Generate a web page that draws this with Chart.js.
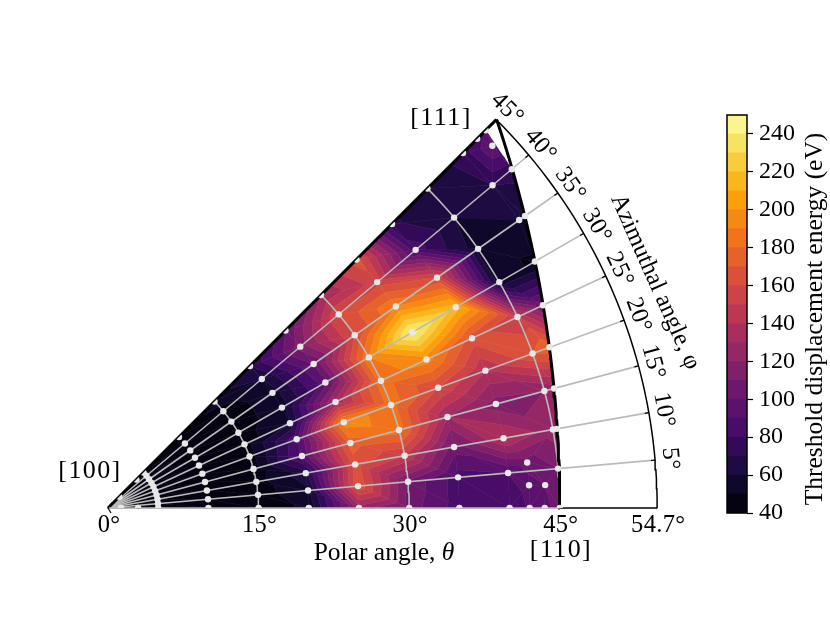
<!DOCTYPE html>
<html><head><meta charset="utf-8">
<script src="https://cdn.jsdelivr.net/npm/chart.js@4/dist/chart.umd.min.js"></script>
<style>html,body{margin:0;padding:0;background:#fff;width:830px;height:623px;overflow:hidden}
canvas{position:absolute;left:0;top:0}</style></head>
<body><canvas id="main" width="830" height="623"></canvas><canvas id="bar" width="830" height="623"></canvas>
<script>
// --- data: polar angle (deg) and threshold energy (eV) along each azimuth ---
const commonTheta = [5,10,15,20,25,30,35,40,45];
const theta0  = [1.3,3,5,10,15,20,25,30,35,40,42,43.5,45];
const energy0 = [45,45,45,45,45,52,125,105,85,80,92,96,105];
const theta5  = commonTheta;
const energy5 = [45,45,45,58,168,108,85,90,110];
const theta10 = [...commonTheta,45.4];
const energy10= [45,45,46,66,165,150,105,140,125,125];
const theta15 = [...commonTheta,46];
const energy15= [45,45,45,92,175,185,130,115,120,125];
const theta20 = [...commonTheta,46.8];
const energy20= [45,45,45,88,195,185,160,140,170,178];
const theta25 = [...commonTheta,47.8];
const energy25= [45,45,45,60,132,185,195,165,150,105];
const theta30 = [...commonTheta,49.1];
const energy30= [45,45,45,55,95,190,245,215,55,48];
const theta35 = [...commonTheta,50,50.7];
const energy35= [45,45,45,55,100,160,190,160,55,60,58];
const theta40 = [...commonTheta,50,52.5];
const energy40= [45,45,45,60,115,160,155,85,60,70,75];
const theta45 = [1.6,4,5,10,15,20,25,30,35,40,45,50,52,53.2];
const energy45= [45,45,45,45,55,70,100,130,165,72,60,75,85,90];
const extraTheta = [42,42,43.6,52.6];
const extraPhi   = [6.2,3.1,3,43.3];
const extraEnergy= [105,95,100,100];
const azimuths = [0,5,10,15,20,25,30,35,40,45];
const thetaRows = [theta0,theta5,theta10,theta15,theta20,theta25,theta30,theta35,theta40,theta45];
const energyRows = [energy0,energy5,energy10,energy15,energy20,energy25,energy30,energy35,energy40,energy45];
const polarTicks = [0,15,30,45,54.7];
const polarGrid = [15,30,45];
const azimuthTicks = [5,10,15,20,25,30,35,40,45];
const barTicksStep = 20;
const levels = [40,50,60,70,80,90,100,110,120,130,140,150,160,170,180,190,200,210,220,230,240,250];

const OUTER = 54.7, PXPER = 10.04, OX = 108, OY = 508;
const SERIF = '"Liberation Serif", serif';
const GRAY = '#bababa';
const rad = d => d*Math.PI/180;
const toXY = (t,p) => ({x:t*Math.cos(rad(p)), y:t*Math.sin(rad(p))});
const bound = p => Math.atan(1/Math.cos(rad(p)))*180/Math.PI;

// colormap
const anchors=[[0,0,4],[22,11,57],[66,10,104],[106,23,110],[147,38,103],[188,55,84],[221,81,58],[243,120,25],[252,165,10],[246,215,70],[252,255,164]];
function inferno(f){const a=Math.min(9.9999,Math.max(0,f*10)),i=Math.floor(a),u=a-i;
  const c=anchors[i].map((v,k)=>Math.round(v+(anchors[i+1][k]-v)*u));return `rgb(${c[0]},${c[1]},${c[2]})`;}
const bandColor = (lo,hi)=>inferno(((lo+hi)/2-levels[0])/(levels[levels.length-1]-levels[0]));

// nodes
const nodes=[{x:0,y:0,v:45}];
const dots=[];
azimuths.forEach((p,i)=>thetaRows[i].forEach((t,j)=>{const q=toXY(t,p);nodes.push({...q,v:energyRows[i][j]});dots.push(q);}));
extraTheta.forEach((t,i)=>{const q=toXY(t,extraPhi[i]);nodes.push({...q,v:extraEnergy[i]});dots.push(q);});

// Delaunay (Bowyer-Watson)
function delaunay(pts){
  const S=1e4,all=pts.concat([{x:-S,y:-S},{x:S,y:-S},{x:0,y:S}]);const n=pts.length;
  let tris=[[n,n+1,n+2]];
  const inC=(t,p)=>{const[a,b,c]=t.map(i=>all[i]);
    const ax=a.x-p.x,ay=a.y-p.y,bx=b.x-p.x,by=b.y-p.y,cx=c.x-p.x,cy=c.y-p.y;
    const d=(ax*ax+ay*ay)*(bx*cy-cx*by)-(bx*bx+by*by)*(ax*cy-cx*ay)+(cx*cx+cy*cy)*(ax*by-bx*ay);
    const o=(b.x-a.x)*(c.y-a.y)-(b.y-a.y)*(c.x-a.x);return o>0?d>1e-9:d<-1e-9;};
  pts.forEach((p,i)=>{const bad=[],good=[];tris.forEach(t=>(inC(t,p)?bad:good).push(t));
    const edges={};bad.forEach(t=>[[t[0],t[1]],[t[1],t[2]],[t[2],t[0]]].forEach(([a,b])=>{const k=a<b?a+'_'+b:b+'_'+a;edges[k]=edges[k]?null:[a,b];}));
    tris=good;Object.values(edges).forEach(e=>{if(e)tris.push([e[0],e[1],i]);});});
  return tris.filter(t=>t.every(i=>i<n));
}
const triangles=delaunay(nodes);

function clipBand(poly,level,keepAbove){
  const out=[];for(let i=0;i<poly.length;i++){const a=poly[i],b=poly[(i+1)%poly.length];
    const ai=keepAbove?a.v>=level:a.v<=level,bi=keepAbove?b.v>=level:b.v<=level;
    if(ai)out.push(a);
    if(ai!==bi){const u=(level-a.v)/(b.v-a.v);out.push({x:a.x+(b.x-a.x)*u,y:a.y+(b.y-a.y)*u,v:level});}}
  return out;}

const sectorPath=(ctx,c)=>{const X=c.scales.x,Y=c.scales.y,ox=X.getPixelForValue(0),oy=Y.getPixelForValue(0),r=X.getPixelForValue(OUTER)-ox;
  ctx.beginPath();ctx.moveTo(ox,oy);ctx.arc(ox,oy,r,0,-rad(45),true);ctx.closePath();};

const contourPlugin={id:'contour',beforeDatasetsDraw(c){
  const ctx=c.ctx,X=c.scales.x,Y=c.scales.y;ctx.save();ctx.lineJoin='round';
  for(let l=0;l<levels.length-1;l++){const col=bandColor(levels[l],levels[l+1]);ctx.fillStyle=col;ctx.strokeStyle=col;ctx.lineWidth=.6;
    triangles.forEach(t=>{let poly=t.map(i=>nodes[i]);poly=clipBand(poly,levels[l],true);if(poly.length<3)return;poly=clipBand(poly,levels[l+1],false);if(poly.length<3)return;
      ctx.beginPath();poly.forEach((p,i)=>{const px=X.getPixelForValue(p.x),py=Y.getPixelForValue(p.y);i?ctx.lineTo(px,py):ctx.moveTo(px,py);});ctx.closePath();ctx.fill();ctx.stroke();});}
  ctx.restore();},
  beforeDatasetDraw(c,a){if(c.data.datasets[a.index].clipSector){c.ctx.save();sectorPath(c.ctx,c);c.ctx.clip();}},
  afterDatasetDraw(c,a){if(c.data.datasets[a.index].clipSector){c.ctx.restore();}},
  afterDraw(c){const ctx=c.ctx,X=c.scales.x,Y=c.scales.y;ctx.save();ctx.fillStyle='#000';ctx.textAlign='center';ctx.textBaseline='middle';
    const T=(s,x,y,size,rot,sp)=>{ctx.save();ctx.translate(x,y);ctx.rotate(rot||0);ctx.letterSpacing=(sp||0)+'px';ctx.font=`${size}px ${SERIF}`;ctx.fillText(s,0,0);ctx.restore();};
    const lblY=Y.getPixelForValue(0)+18;
    polarTicks.forEach(t=>T(t+'°',X.getPixelForValue(t)+1,lblY,24.5,0,.3));
    azimuthTicks.forEach(p=>{const q=toXY(56.2,p);T(p+'°',X.getPixelForValue(q.x),Y.getPixelForValue(q.y),24.5,rad(90-p),.3);});
    T('[100]',90,471,26,0,1.4);T('[111]',441,118,26,0,1.4);T('[110]',561,550,26,0,1.4);
    ctx.font=`25.5px ${SERIF}`;const a='Polar angle, ',wa=ctx.measureText(a).width;ctx.font=`italic 25.5px ${SERIF}`;const wb=ctx.measureText('θ').width;
    const x0=384-(wa+wb)/2;ctx.textAlign='left';ctx.font=`25.5px ${SERIF}`;ctx.fillText(a,x0,553);ctx.font=`italic 25.5px ${SERIF}`;ctx.fillText('θ',x0+wa,553);ctx.textAlign='center';
    T('Azimuthal angle, φ',655,282,24.5,rad(66));
    ctx.restore();}
};

const line=(pts,color,width)=>({type:'line',data:pts,borderColor:color,borderWidth:width,pointRadius:0,fill:false,tension:0,clip:false,borderCapStyle:'butt'});
const sweep=(fn)=>{const o=[];for(let p=0;p<=45;p+=1)o.push(fn(p));return o;};
const ds=[];
azimuthTicks.slice(0,-1).forEach(p=>ds.push(line([toXY(0,p),toXY(OUTER,p)],GRAY,1.6)));
polarGrid.forEach(t=>ds.push(line(sweep(p=>toXY(t,p)),GRAY,1.6)));
ds.push(line([toXY(0,45),toXY(OUTER,45)],'#000',3));
ds.push(line(sweep(p=>toXY(bound(p),p)),'#000',3));
ds.push(line([toXY(0,0),toXY(45,0)],GRAY,1.6));
ds.push(line([toXY(45,0),toXY(OUTER,0)],'#000',1.5));
ds.push(line(sweep(p=>toXY(OUTER,p)),'#000',1.5));
azimuthTicks.forEach(p=>ds.push(line([toXY(OUTER-0.42,p),toXY(OUTER,p)],'#000',1.2)));
ds.push(line([{x:0.4,y:0.55},{x:0,y:0},{x:0.3,y:-0.5}],'#000',1.2));
ds.push({type:'scatter',data:dots,backgroundColor:'#e8e8e8',pointBackgroundColor:'#e8e8e8',pointBorderColor:'rgba(0,0,0,0)',borderWidth:0,pointBorderWidth:0,pointRadius:3.2,clipSector:true,clip:false});
// Chart.js paints lower order on top: keep later datasets above earlier ones
ds.forEach((d,i)=>{d.order=ds.length-i;});

new Chart(document.getElementById('main'),{
  type:'scatter',data:{datasets:ds},plugins:[contourPlugin],
  options:{responsive:false,animation:false,devicePixelRatio:1,layout:{padding:0,autoPadding:false},
    plugins:{legend:{display:false},tooltip:{enabled:false}},events:[],
    scales:{x:{type:'linear',display:false,min:-OX/PXPER,max:(830-OX)/PXPER},
            y:{type:'linear',display:false,min:-(623-OY)/PXPER,max:OY/PXPER}}}
});

const barSets=levels.slice(0,-1).map((lo,i)=>({data:[[lo,levels[i+1]]],backgroundColor:bandColor(lo,levels[i+1]),borderWidth:0,barPercentage:1,categoryPercentage:1,grouped:false}));
new Chart(document.getElementById('bar'),{
  type:'bar',data:{labels:['energy'],datasets:barSets},
  plugins:[{id:'cbFrame',afterDraw(c){const a=c.chartArea,ctx=c.ctx;ctx.save();ctx.strokeStyle='#000';ctx.lineWidth=1.5;ctx.strokeRect(a.left,a.top,a.right-a.left,a.bottom-a.top);
    ctx.fillStyle='#000';ctx.textAlign='center';ctx.textBaseline='middle';ctx.translate(815,319);ctx.rotate(-Math.PI/2);ctx.font=`25.5px ${SERIF}`;ctx.fillText('Threshold displacement energy (eV)',0,0);ctx.restore();}}],
  options:{responsive:false,animation:false,devicePixelRatio:1,events:[],
    layout:{padding:{left:727,right:0,top:115,bottom:110},autoPadding:false},
    plugins:{legend:{display:false},tooltip:{enabled:false}},
    scales:{x:{display:false,grid:{display:false},offset:true},
      y:{position:'right',min:levels[0],max:levels[levels.length-1],
        afterFit(s){s.width=83;},
        ticks:{stepSize:barTicksStep,includeBounds:false,color:'#000',padding:6,font:{family:SERIF,size:24},maxRotation:0,autoSkip:false},
        grid:{drawOnChartArea:false,drawTicks:true,tickLength:6,tickColor:'#000',tickWidth:1.2},
        border:{display:false}}}}
});
</script></body></html>
